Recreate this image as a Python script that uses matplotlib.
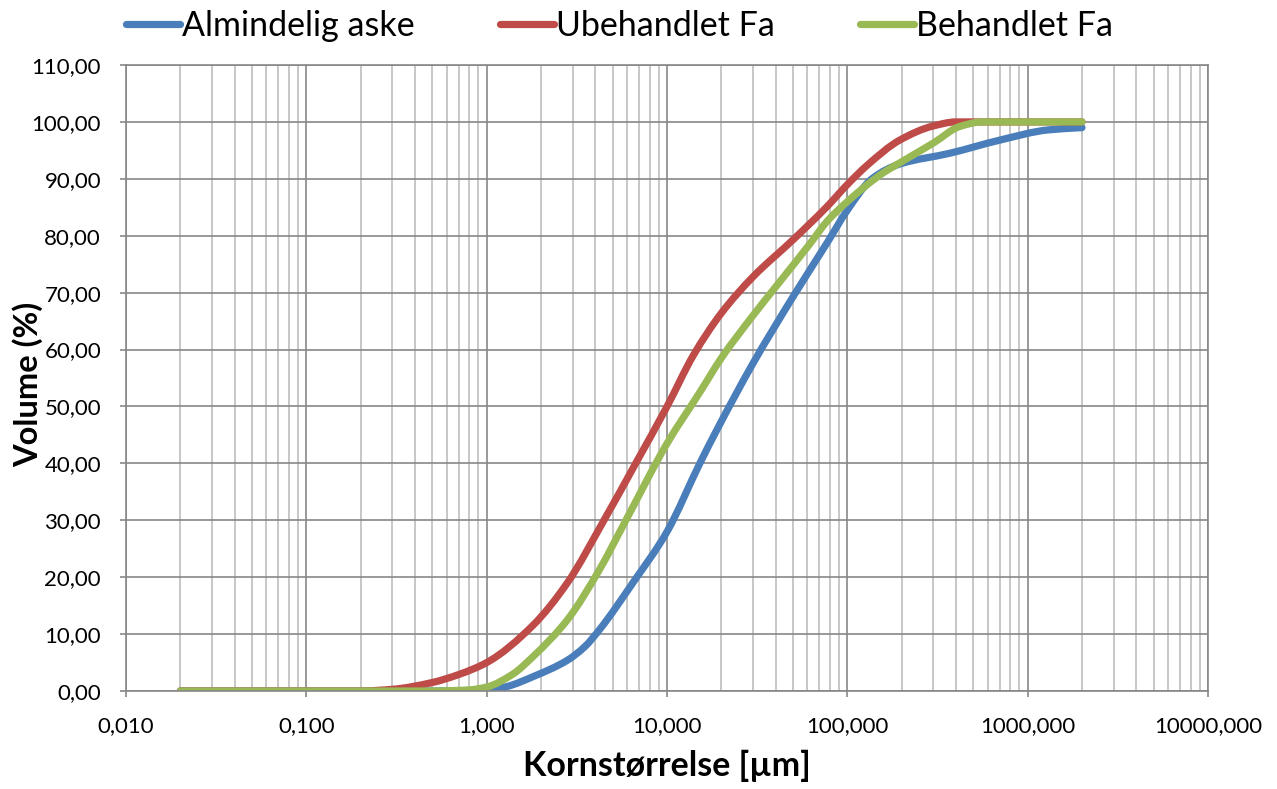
import numpy as np
import matplotlib.pyplot as plt
from matplotlib.path import Path
from matplotlib.patches import PathPatch
from matplotlib.ticker import FixedLocator, LogLocator, NullFormatter

plt.rcParams['font.family'] = ['Lato', 'DejaVu Sans']

# Kornstørrelse [µm] og kumulativ volumen (%)
x_alm = [0.02, 0.8, 1.0, 1.3, 1.8, 2.8, 3.5, 4.25, 6.46, 10, 15.2, 18.9, 30, 50, 77,
         100, 138, 195, 370, 700, 1300, 2000]
y_alm = [0, 0, 0.1, 0.8, 2.5, 5.4, 7.8, 10.9, 19, 28, 40, 45.9, 57.6, 69.3, 78.7,
         84.5, 90.1, 92.6, 94.5, 96.8, 98.6, 99]

x_ube = [0.02, 0.1, 0.2, 0.3, 0.5, 0.7, 1.0, 1.8, 2.8, 4.47, 6.7, 10, 14, 20,
         30, 50, 77, 100, 130, 195, 300, 400, 600, 1000, 2000]
y_ube = [0, 0, 0, 0.3, 1.5, 2.9, 5, 11.5, 19, 30, 40, 50, 59, 66.4,
         72.8, 79.3, 85.1, 89, 92.5, 96.8, 99.3, 100, 100, 100, 100]

x_beh = [0.02, 0.5, 0.8, 1.0, 1.4, 1.8, 2.8, 4.25, 5.8, 10, 15.2, 20, 30, 40, 61.7,
         77, 100, 157, 195, 300, 420, 560, 1000, 2000]
y_beh = [0, 0, 0.2, 0.7, 3, 6, 12.5, 21.5, 29.5, 43.5, 52.5, 58.5, 66, 71, 78.5,
         82.5, 86, 91, 92.8, 96.3, 99.2, 100, 100, 100]

names = ['Almindelig aske', 'Ubehandlet Fa', 'Behandlet Fa']
colors = ['#4A7EBB', '#BE4B48', '#98B954']

x_ticks = [0.01, 0.1, 1, 10, 100, 1000, 10000]
x_labels = ['0,010', '0,100', '1,000', '10,000', '100,000', '1000,000', '10000,000']
y_ticks = list(range(0, 111, 10))
y_labels = [f'{v},00' for v in y_ticks]


def smooth_path(xs, ys):
    # smoothed line (like Excel), monotone cubic Bezier in log-x space
    u = np.log10(np.asarray(xs, float))
    y = np.asarray(ys, float)
    h = np.diff(u)
    d = np.diff(y) / h
    m = np.zeros_like(y)
    m[0], m[-1] = d[0], d[-1]
    for i in range(1, len(y) - 1):
        if d[i - 1] * d[i] > 0:
            w1 = 2 * h[i] + h[i - 1]
            w2 = h[i] + 2 * h[i - 1]
            m[i] = (w1 + w2) / (w1 / d[i - 1] + w2 / d[i])
    verts = [(u[0], y[0])]
    codes = [Path.MOVETO]
    for i in range(len(y) - 1):
        verts += [(u[i] + h[i] / 3, y[i] + m[i] * h[i] / 3),
                  (u[i + 1] - h[i] / 3, y[i + 1] - m[i + 1] * h[i] / 3),
                  (u[i + 1], y[i + 1])]
        codes += [Path.CURVE4] * 3
    verts = np.array(verts)
    verts[:, 0] = 10 ** verts[:, 0]
    return Path(verts, codes)


fig = plt.figure(figsize=(12.77, 7.89), dpi=100)
ax = fig.add_axes([0.0987, 0.1242, 0.8473, 0.7934])

for name, xs, ys, col in zip(names, [x_alm, x_ube, x_beh], [y_alm, y_ube, y_beh], colors):
    ax.add_patch(PathPatch(smooth_path(xs, ys), fill=False, edgecolor=col, lw=5.2,
                           capstyle='round', joinstyle='round'))
    ax.plot([], [], color=col, lw=5.2, solid_capstyle='round', label=name)

ax.set_xscale('log')
ax.set_xlim(0.01, 10000)
ax.set_ylim(0, 110)
ax.xaxis.set_major_locator(FixedLocator(x_ticks))
ax.set_xticklabels(x_labels)
ax.xaxis.set_minor_locator(LogLocator(base=10, subs=np.arange(2, 10), numticks=100))
ax.xaxis.set_minor_formatter(NullFormatter())
ax.set_yticks(y_ticks)
ax.set_yticklabels(y_labels)

ax.grid(which='major', axis='both', color='#878787', lw=1.2)
ax.grid(which='minor', axis='x', color='#BEBEBE', lw=1.2)
ax.set_axisbelow(True)
for s in ax.spines.values():
    s.set_color('#878787')
    s.set_linewidth(1.2)
ax.tick_params(which='major', length=4, width=1.2, color='#878787', labelsize=16)
ax.tick_params(axis='x', which='major', pad=14)
ax.tick_params(axis='y', which='major', pad=14)
ax.tick_params(which='minor', length=0)

ax.set_xlabel('Kornstørrelse [µm]', fontsize=24.5, fontweight='bold', labelpad=10)
ax.set_ylabel('Volume (%)', fontsize=23.5, fontweight='bold')
ax.yaxis.set_label_coords(-0.077, 0.49)

fig.legend(loc='center', bbox_to_anchor=(0.485, 0.967), ncol=3, frameon=False,
           fontsize=24.5, handlelength=1.6, handletextpad=0.05, columnspacing=2.5)

fig.savefig('out.png', dpi=100)
